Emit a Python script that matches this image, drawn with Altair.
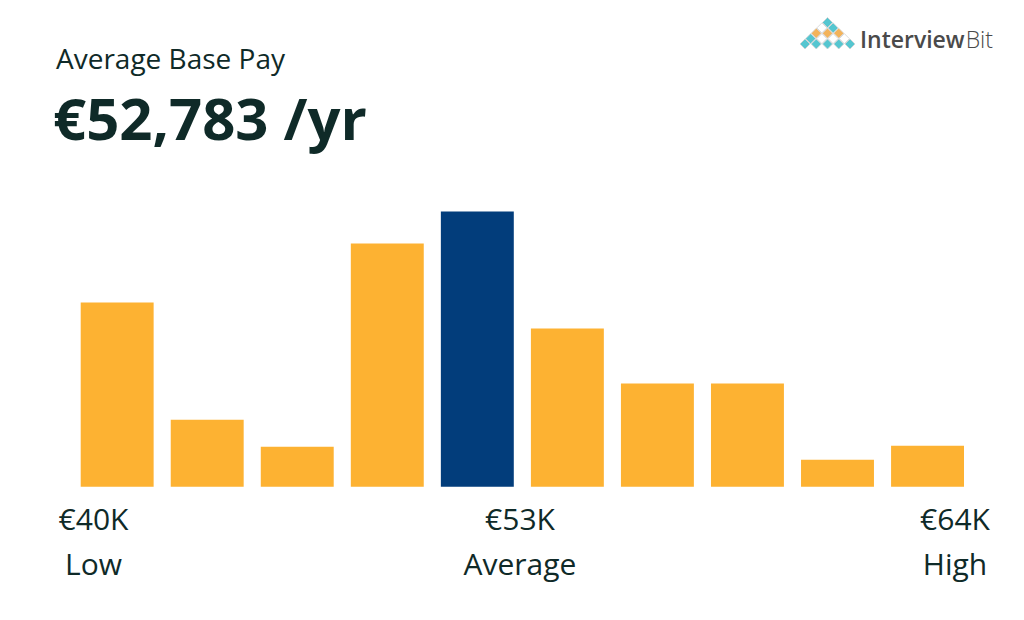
import altair as alt
import pandas as pd

# Salary distribution bins (share of reports per bin) from €40K to €64K
bins = ["€40.0K", "€42.4K", "€44.8K", "€47.2K", "€49.6K",
        "€52.0K", "€54.4K", "€56.8K", "€59.2K", "€61.6K"]
counts = [184, 67, 40, 243, 275, 158, 103, 103, 27, 41]
is_average = [False, False, False, False, True,
              False, False, False, False, False]

range_values = ["€40K", "€53K", "€64K"]
range_names = ["Low", "Average", "High"]

title_text = "Average Base Pay"
headline_text = "€52,783 /yr"

# Logo: triangle of diamonds (row, half-step position, fill)
logo_row = [0, 1, 1, 2, 2, 2, 3, 3, 3, 3, 4, 4, 4, 4, 4]
logo_pos = [0, -1, 1, -2, 0, 2, -3, -1, 1, 3, -4, -2, 0, 2, 4]
logo_fill = ["t", "w", "t", "o", "o", "o", "t", "w", "w", "w",
             "t", "t", "t", "t", "t"]

DARK = "#0f2a28"
ORANGE = "#FDB232"
NAVY = "#023D7B"
FONT = "Open Sans"

bars_df = pd.DataFrame({"bin": bins, "count": counts, "avg": is_average})

bars = alt.Chart(bars_df).mark_bar().encode(
    x=alt.X("bin:N", sort=bins, axis=None,
            scale=alt.Scale(range=[80.7, 964], paddingInner=0.19, paddingOuter=0)),
    y=alt.Y("count:Q", axis=None,
            scale=alt.Scale(domain=[0, 275], range=[486.7, 211.4])),
    color=alt.condition(alt.datum.avg, alt.value(NAVY), alt.value(ORANGE)),
)


def text_layer(txt, x, y, size, weight="normal", align="left", color=DARK):
    return alt.Chart(pd.DataFrame({"t": [txt]})).mark_text(
        align=align, baseline="alphabetic", font=FONT, fontSize=size,
        fontWeight=weight, color=color,
    ).encode(text="t:N", x=alt.value(x), y=alt.value(y))


title = text_layer(title_text, 56, 69, 28, weight=500)
headline = text_layer(headline_text, 53, 140, 58, weight="bold")

centers = [93.5, 520, 955]
range_layers = []
for v, n, cx in zip(range_values, range_names, centers):
    range_layers.append(text_layer(v, cx, 530, 30, align="center"))
    range_layers.append(text_layer(n, cx, 575, 30, align="center"))

logo_df = pd.DataFrame({"row": logo_row, "pos": logo_pos, "fill": logo_fill})
logo = alt.Chart(logo_df).mark_point(
    shape="diamond", filled=True, size=100, opacity=1,
    stroke="#d2d2d2", strokeWidth=0.8,
).encode(
    x=alt.X("pos:Q", axis=None, scale=alt.Scale(domain=[-4, 4], range=[805, 850])),
    y=alt.Y("row:Q", axis=None, scale=alt.Scale(domain=[0, 4], range=[22.5, 44])),
    fill=alt.Fill("fill:N", legend=None,
                  scale=alt.Scale(domain=["t", "o", "w"],
                                  range=["#55C6D0", "#F3B35A", "#ffffff"])),
)

logo_word = text_layer("Interview", 860, 48, 23, weight=600, color="#4a4a4a")
logo_bit = text_layer("Bit", 993, 48, 23, weight=300, align="right", color="#4a4a4a")

chart = alt.layer(
    bars, title, headline, *range_layers, logo, logo_word, logo_bit
).resolve_scale(
    x="independent", y="independent", color="independent", fill="independent"
).properties(
    width=1024, height=620, padding=0, autosize=alt.AutoSizeParams(type="none"),
    background="white",
).configure_view(strokeWidth=0)

chart.save("out.html", embed_options={"renderer": "svg", "actions": False})
